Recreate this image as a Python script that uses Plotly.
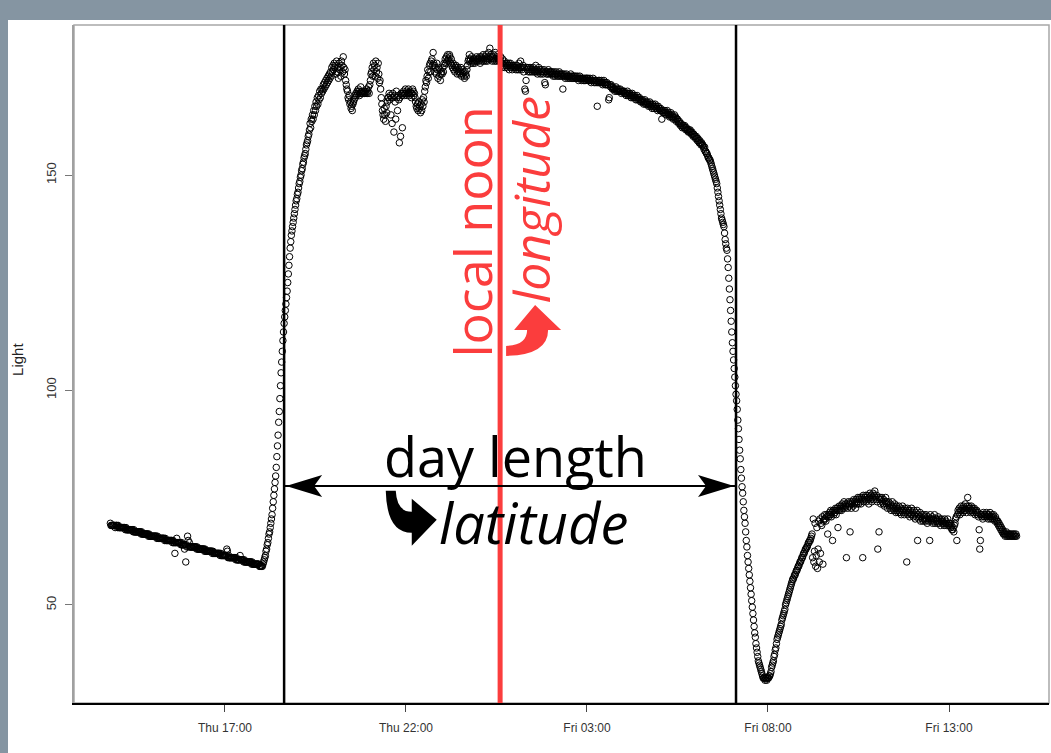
import plotly.graph_objects as go
from datetime import datetime, timedelta

# ---------------- data (light level, one reading per minute) ----------------
HOUR_STARTS = [
    "2013-08-15 13:50", "2013-08-15 14:00", "2013-08-15 15:00", "2013-08-15 16:00",
    "2013-08-15 17:00", "2013-08-15 18:00", "2013-08-15 19:00", "2013-08-15 20:00",
    "2013-08-15 21:00", "2013-08-15 22:00", "2013-08-15 23:00", "2013-08-16 00:00",
    "2013-08-16 01:00", "2013-08-16 02:00", "2013-08-16 03:00", "2013-08-16 04:00",
    "2013-08-16 05:00", "2013-08-16 06:00", "2013-08-16 07:00", "2013-08-16 08:00",
    "2013-08-16 09:00", "2013-08-16 10:00", "2013-08-16 11:00", "2013-08-16 12:00",
    "2013-08-16 13:00", "2013-08-16 14:00",
]

LIGHT_BY_HOUR = [
    # Thu 13:50
    [69, 68.5, 68.5, 68.5, 68.5, 68.5, 68.5, 68.5, 68, 68.5],
    # Thu 14:00
    [68.5, 68.5, 68, 68.5, 68, 68, 68, 68, 68, 68,
     68, 68, 68, 68, 68, 67.5, 68, 67.5, 67.5, 67.5,
     67.5, 67.5, 67.5, 67.5, 67.5, 67.5, 67.5, 67.5, 67, 67.5,
     67, 67, 67, 67, 67, 67, 67, 67, 67, 67,
     67, 66.5, 67, 66.5, 66.5, 66.5, 66.5, 66.5, 66.5, 66.5,
     66.5, 66.5, 66.5, 66, 66.5, 66, 66, 66, 66, 66],
    # Thu 15:00
    [66, 66, 66, 66, 66, 66, 66, 65.5, 66, 65.5,
     65.5, 65.5, 65.5, 65.5, 65.5, 65.5, 65.5, 65.5, 65.5, 65.5,
     65, 65.5, 65, 65, 65, 65, 65, 65, 65, 65,
     65, 65, 65, 64.5, 65, 64.5, 64.5, 62, 64.5, 64.5,
     65.5, 64.5, 64.5, 64.5, 64.5, 64.5, 64.5, 64, 64.5, 64,
     64, 64, 64, 63, 64, 60, 64, 63.5, 66, 65],
    # Thu 16:00
    [63.5, 64.5, 63.5, 63.5, 63.5, 63.5, 63.5, 63.5, 63.5, 63.5,
     63.5, 63.5, 63.5, 63, 63.5, 63, 63, 63, 63, 63,
     63, 63, 63, 63, 63, 63, 62.5, 63, 62.5, 62.5,
     62.5, 62.5, 62.5, 62.5, 62.5, 62.5, 62.5, 62.5, 62.5, 62,
     62.5, 62, 62, 62, 62, 62, 62, 62, 62, 62,
     62, 62, 61.5, 62, 61.5, 61.5, 61.5, 61.5, 61.5, 61.5],
    # Thu 17:00
    [61.5, 61.5, 61.5, 63, 62.5, 61, 61.5, 61, 61, 61,
     61, 61, 61, 61, 61, 61, 61, 61, 60.5, 61,
     60.5, 60.5, 60.5, 60.5, 60.5, 61.5, 60.5, 60.5, 60.5, 60.5,
     60.5, 60, 60.5, 60, 60, 60, 60, 60, 60, 60,
     60, 60, 60, 60, 59.5, 60, 59.5, 59.5, 59.5, 59.5,
     59.5, 59.5, 59.5, 59.5, 59.5, 59.5, 59.5, 59, 59, 59],
    # Thu 18:00
    [59, 59, 59, 59.5, 60, 60.5, 61, 61.5, 62.5, 63,
     64, 64.5, 65.5, 66.5, 67, 68, 69, 70, 71, 72.5,
     74, 75.5, 77, 78.5, 80, 82, 84.5, 87, 89.5, 92.5,
     95, 98, 101, 104, 106.5, 109, 111.5, 113.5, 115.5, 117,
     118.5, 120, 121.5, 123, 125, 127, 129, 131, 133, 134.5,
     136, 137, 138, 139, 140, 141, 142, 143, 144, 144.5],
    # Thu 19:00
    [145.5, 146, 147, 148, 148.5, 149.5, 150, 151, 151.5, 152.5,
     153, 154, 154.5, 155, 156, 157, 157.5, 158, 159, 159.5,
     160.5, 162, 161, 163, 162.5, 164, 163, 165, 164, 166,
     165, 167, 166, 168, 166.5, 168.5, 167.5, 169.5, 168, 170,
     169, 170, 169.5, 171, 170, 171.5, 170.5, 172, 171, 172.5,
     171.5, 173, 172, 173.5, 172.5, 174, 173, 175, 174, 175.5],
    # Thu 20:00
    [174.5, 176, 175, 175.5, 173.5, 176.5, 174, 175, 172.5, 176,
     174.5, 175, 173, 176.5, 175.5, 174, 177.5, 175, 173.5, 174.5,
     172, 171, 170, 169.5, 168, 167.5, 168.5, 166.5, 167, 165.5,
     166, 165, 166.5, 167, 167.5, 168.5, 168, 169, 168.5, 169.5,
     169, 170, 169.5, 168.5, 169, 170.5, 169, 169.5, 169, 169,
     169.5, 169, 169, 169.5, 169, 170, 169, 169.5, 170.5, 169],
    # Thu 21:00
    [171, 172, 173.5, 174, 175, 173, 176, 174.5, 175.5, 173,
     176.5, 174, 175, 172.5, 176, 173.5, 171.5, 172, 170, 168,
     166.5, 165, 164, 163, 165.5, 164, 162.5, 166, 164.5, 167,
     168, 168, 169, 167.5, 168.5, 164, 168, 162, 169, 168,
     160, 168.5, 167, 163, 169.5, 168, 165, 168.5, 167.5, 157.5,
     168, 159, 169, 168.5, 161, 169, 169.5, 168.5, 169, 170],
    # Thu 22:00
    [169, 169.5, 168.5, 169, 170, 169, 168.5, 169.5, 169, 168,
     169, 170, 169.5, 168.5, 169, 168, 167, 166, 165.5, 166.5,
     165, 167, 165.5, 166, 164.5, 166.5, 165, 167.5, 166, 168,
     167, 169.5, 170.5, 172, 171.5, 173, 174.5, 172.5, 174, 175.5,
     176, 174, 176.5, 177, 175.5, 178.5, 176, 175.5, 174, 175,
     173.5, 176, 174.5, 172.5, 175, 173, 174.5, 172, 173.5, 174],
    # Thu 23:00
    [173.5, 175, 174, 176, 175.5, 177, 176, 177.5, 176.5, 178,
     177, 176.5, 178, 177.5, 176, 177, 175.5, 175, 176, 174.5,
     175.5, 174, 175, 175.5, 174.5, 173.5, 175, 174, 174.5, 173.5,
     174, 175, 173, 174.5, 173.5, 174, 173, 172.5, 174, 173.5,
     173, 174.5, 175.5, 176.5, 177, 178, 176.5, 177, 176, 177.5,
     176.5, 176, 177, 176.5, 176, 177, 176.5, 177.5, 176.5, 177],
    # Fri 00:00
    [177, 176.5, 177.5, 176, 177, 177.5, 176.5, 177, 178, 176.5,
     177, 177.5, 176.5, 178, 177, 176.5, 177.5, 178.5, 177, 179.5,
     177.5, 178, 177, 176.5, 177.5, 178, 177, 176.5, 178.5, 177,
     176.5, 177.5, 178, 177, 176.5, 177, 176.5, 177.5, 176, 175,
     177, 176, 175.5, 176.5, 175, 176, 175.5, 176, 175, 175.5,
     176, 174.5, 175.5, 176, 175, 175.5, 174.5, 175, 175.5, 175],
    # Fri 01:00
    [175.5, 175, 174.5, 175, 175.5, 174.5, 175, 176, 174.5, 175,
     176.5, 175, 174.5, 175, 175.5, 174, 175, 170, 169.5, 172,
     175, 174.5, 175, 174, 175, 174.5, 174, 175, 174.5, 174,
     174.5, 175, 174, 174.5, 174, 175.5, 174, 174.5, 173.5, 174,
     175, 174, 174.5, 173.5, 174, 174.5, 174, 173.5, 174, 174.5,
     171.5, 171, 174, 173.5, 174, 173.5, 174.5, 174, 173.5, 174],
    # Fri 02:00
    [174, 173.5, 174, 173.5, 173, 174, 173.5, 173, 173.5, 174,
     173.5, 173, 173.5, 173, 174, 173.5, 173, 173.5, 173, 173.5,
     170, 173, 173.5, 173, 172.5, 173, 173.5, 173, 172.5, 173,
     173, 172.5, 173, 173.5, 172.5, 173, 172.5, 173, 172.5, 173,
     172.5, 173, 172.5, 172.5, 173, 172.5, 172, 172.5, 173, 172.5,
     172.5, 172, 172.5, 172.5, 172, 172.5, 172, 172.5, 172, 172.5],
    # Fri 03:00
    [172.5, 172, 172.5, 172, 172, 172.5, 172, 171.5, 172, 172,
     172.5, 172, 171.5, 172, 172, 171.5, 172, 166, 171.5, 172,
     171.5, 172, 171.5, 171.5, 172, 171.5, 171, 171.5, 172, 171.5,
     171, 171.5, 171, 171.5, 171, 171, 167.5, 168, 171, 170.5,
     171, 170.5, 170, 170.5, 170, 170, 169.5, 170, 170.5, 169.5,
     170, 169.5, 170, 169.5, 169.5, 170, 169.5, 169, 169.5, 169.5],
    # Fri 04:00
    [169.5, 169, 169.5, 169, 169, 168.5, 169, 169.5, 168.5, 169,
     168.5, 169, 168.5, 168, 168.5, 169, 168, 168.5, 168, 168.5,
     168, 167.5, 168, 168.5, 167.5, 168, 167.5, 168, 167.5, 167,
     167.5, 167, 167.5, 167, 166.5, 167, 167.5, 166.5, 167, 166.5,
     167, 166.5, 166, 166.5, 167, 166, 166.5, 166, 165.5, 166.5,
     166, 165.5, 166, 166.5, 165.5, 166, 165.5, 165, 166, 165.5],
    # Fri 05:00
    [165.5, 165, 165.5, 165, 163, 165, 164.5, 165, 164.5, 165,
     164.5, 164, 164.5, 165, 164, 164.5, 164, 163.5, 164, 164.5,
     163.5, 164, 163.5, 163, 163.5, 164, 163, 163.5, 162.5, 163,
     163, 162.5, 162, 162.5, 162, 161.5, 162, 161.5, 161, 161.5,
     161.5, 161, 161.5, 161, 160.5, 161, 160.5, 160.5, 160, 160.5,
     160, 160.5, 160, 159.5, 160, 159.5, 159, 159.5, 159, 159],
    # Fri 06:00
    [158.5, 159, 158.5, 158, 158.5, 158, 157.5, 158, 157.5, 157,
     157.5, 157, 157, 156.5, 156, 156.5, 155.5, 155.5, 155, 155,
     154.5, 154, 154, 153.5, 153.5, 153, 152.5, 152, 151.5, 151,
     150.5, 150, 149.5, 149, 148.5, 148, 147, 146, 145, 144,
     143, 142, 141, 140, 139.5, 139, 138.5, 138, 136.5, 135,
     134, 133, 132.5, 130.5, 128.5, 126, 123.5, 121, 118.5, 116],
    # Fri 07:00
    [113.5, 111, 109, 107, 105, 103, 101, 99, 97.5, 95.5,
     93, 91, 88.5, 86, 84, 81.5, 79.5, 77.5, 76, 74,
     72, 70.5, 69, 67, 65, 63.5, 61.5, 60, 58.5, 57,
     55.5, 54, 52.5, 51, 49.5, 48, 46.5, 45, 43.5, 42.5,
     41, 40, 39, 38, 37, 36.5, 36, 35.5, 35, 34.5,
     34, 33.5, 33, 33, 33, 32.5, 33, 33, 32.5, 33],
    # Fri 08:00
    [33, 33, 33.5, 33.5, 34, 34.5, 35.5, 36, 36.5, 37,
     38, 38.5, 39.5, 40, 41, 42, 42.5, 43, 43.5, 44,
     44.5, 45, 45.5, 46.5, 47, 47.5, 48, 48.5, 49, 50,
     50.5, 51, 51.5, 52, 52.5, 53, 53.5, 54, 54.5, 55,
     55.5, 56, 56, 56.5, 57, 57, 57.5, 58, 58, 58.5,
     59, 59, 59.5, 60, 60, 60.5, 61, 61, 61.5, 62],
    # Fri 09:00
    [62, 62.5, 63, 63, 63.5, 63.5, 64, 64.5, 64.5, 65,
     65, 65.5, 66, 66.5, 61, 70, 60, 62.5, 69, 59,
     61.5, 68, 58.5, 63, 69.5, 60, 70, 62, 69, 68.5,
     70.5, 59.5, 69.5, 70, 71, 70, 69.5, 71, 70.5, 66.5,
     71, 70.5, 71.5, 71, 72, 70.5, 71.5, 65, 72, 71,
     72, 71.5, 72.5, 71, 72, 72.5, 68, 72, 73, 72],
    # Fri 10:00
    [72.5, 73, 72, 73.5, 72.5, 73, 74, 72.5, 73.5, 73,
     61, 73.5, 72.5, 74, 73, 73.5, 67, 74, 72.5, 73.5,
     74, 73, 74.5, 73.5, 74, 72.5, 74.5, 73.5, 74, 75,
     73.5, 74.5, 75, 74, 73.5, 75, 74.5, 61, 75.5, 74,
     75, 74.5, 75.5, 74, 75, 75.5, 74.5, 73.5, 75, 76,
     74.5, 75.5, 74, 75, 76, 74.5, 75.5, 76.5, 75, 74.5],
    # Fri 11:00
    [75.5, 74, 63, 75, 67, 74.5, 75, 73.5, 74.5, 75,
     74, 73.5, 74.5, 73, 74, 75, 73.5, 74, 72.5, 73.5,
     74, 73, 72.5, 73.5, 72, 73, 74, 72.5, 73, 72,
     73.5, 72.5, 71.5, 73, 72, 72.5, 71.5, 73, 72, 71.5,
     72.5, 71, 72, 73, 71.5, 72, 71, 72.5, 71.5, 72,
     60, 72.5, 71, 72, 71.5, 70.5, 72, 71, 72.5, 71],
    # Fri 12:00
    [71.5, 70.5, 72, 71, 70, 71.5, 70.5, 72, 65, 71,
     70, 70.5, 71.5, 69.5, 70.5, 71, 70, 69.5, 71, 70,
     70.5, 69.5, 71, 70, 69, 70.5, 69.5, 70, 65, 71,
     69.5, 70, 70.5, 69, 70, 69.5, 71, 69, 70, 69.5,
     70, 69, 70.5, 69.5, 69, 70, 68.5, 69.5, 70, 69,
     69.5, 69, 68.5, 70, 69, 69.5, 68.5, 69, 70, 68.5],
    # Fri 13:00
    [69, 68.5, 69, 68, 68.5, 67.5, 67.5, 68, 67, 68.5,
     69, 70, 70.5, 65, 71, 72, 71.5, 72.5, 71, 72,
     73, 72, 72.5, 71.5, 73, 72, 72.5, 73.5, 72, 71.5,
     73, 75, 72.5, 73, 72, 72.5, 71.5, 73, 72, 72.5,
     71.5, 72, 72.5, 71, 72, 71.5, 72, 71, 71.5, 70.5,
     67.5, 63, 65, 71, 70.5, 71, 70, 71.5, 70.5, 71],
    # Fri 14:00
    [71, 70.5, 71.5, 70.5, 71, 70, 71, 70.5, 71.5, 70,
     70.5, 71, 70, 70.5, 71, 70, 69.5, 70.5, 70, 69.5,
     69, 69.5, 68.5, 69, 68, 68.5, 67.5, 68, 67, 67.5,
     66.5, 67, 66.5, 66, 66.5, 67, 66, 66.5, 66, 66.5,
     66, 66.5, 66, 66.5, 66, 66, 66.5, 66, 66.5, 66,
     66, 66.5, 66],
]

TICK_TIMES = ["2013-08-15 17:00", "2013-08-15 22:00", "2013-08-16 03:00",
              "2013-08-16 08:00", "2013-08-16 13:00"]
TICK_LABELS = ["Thu 17:00", "Thu 22:00", "Fri 03:00", "Fri 08:00", "Fri 13:00"]
Y_TICKS = [50, 100, 150]

SUNRISE = "2013-08-15 18:38"
LOCAL_NOON = "2013-08-16 00:36"
SUNSET = "2013-08-16 07:07"
DAY_LENGTH_LEVEL = 77.7

X_RANGE = ["2013-08-15 12:49:45", "2013-08-16 15:45:45"]
Y_RANGE = [27.2, 184.9]

# ---------------- build series ----------------
times, light = [], []
for start, row in zip(HOUR_STARTS, LIGHT_BY_HOUR):
    t0 = datetime.strptime(start, "%Y-%m-%d %H:%M")
    for i, v in enumerate(row):
        times.append(t0 + timedelta(minutes=i))
        light.append(v)

fig = go.Figure()
fig.add_trace(go.Scatter(
    x=times, y=light, mode="markers",
    marker=dict(symbol="circle-open", size=6.5, color="black", line=dict(width=1)),
    hoverinfo="skip", showlegend=False,
))

RED = "#fb3d3d"

# curved "heavy arrow" glyph drawn as a pixel-sized path, tip at (0,0), pointing right
CURVED_ARROW_RIGHT = "M-51,29 Q-50,-13 -25,-13 L-25,-26 L0,0 L-25,21 L-25,8 Q-40,8 -41,29 Z"
# same glyph turned 90 degrees counter-clockwise (pointing up)
CURVED_ARROW_UP = "M-29,-51 Q13,-50 13,-25 L26,-25 L0,0 L-21,-25 L-8,-25 Q-8,-40 -29,-41 Z"

shapes = [
    # white panel over the slate background
    dict(type="rect", xref="paper", yref="paper", x0=-0.0677, x1=1.02, y0=-0.09, y1=1.0074,
         fillcolor="white", line=dict(width=0), layer="below"),
    # gray plot frame
    dict(type="rect", xref="paper", yref="paper", x0=0, x1=1, y0=0, y1=1,
         line=dict(color="#a8a8a8", width=1.5), fillcolor="rgba(0,0,0,0)", layer="below"),
    dict(type="line", xref="x", yref="paper", x0=SUNRISE, x1=SUNRISE, y0=0, y1=1,
         line=dict(color="black", width=2.5)),
    dict(type="line", xref="x", yref="paper", x0=SUNSET, x1=SUNSET, y0=0, y1=1,
         line=dict(color="black", width=2.5)),
    dict(type="line", xref="x", yref="paper", x0=LOCAL_NOON, x1=LOCAL_NOON, y0=0, y1=1,
         line=dict(color=RED, width=5)),
    # day length arrow
    dict(type="line", xref="x", yref="y", x0=SUNRISE, x1=SUNSET,
         y0=DAY_LENGTH_LEVEL, y1=DAY_LENGTH_LEVEL, line=dict(color="black", width=2)),
    dict(type="path", xref="x", yref="y", xsizemode="pixel", ysizemode="pixel",
         xanchor=SUNRISE, yanchor=DAY_LENGTH_LEVEL,
         path="M2,0 L38,11 L30,0 L38,-11 Z", fillcolor="black", line=dict(width=0)),
    dict(type="path", xref="x", yref="y", xsizemode="pixel", ysizemode="pixel",
         xanchor=SUNSET, yanchor=DAY_LENGTH_LEVEL,
         path="M-2,0 L-38,11 L-30,0 L-38,-11 Z", fillcolor="black", line=dict(width=0)),
    # curved arrows in front of "latitude" and "longitude"
    dict(type="path", xref="x", yref="y", xsizemode="pixel", ysizemode="pixel",
         xanchor="2013-08-15 22:51", yanchor=69.8,
         path=CURVED_ARROW_RIGHT, fillcolor="black", line=dict(width=0)),
    dict(type="path", xref="x", yref="y", xsizemode="pixel", ysizemode="pixel",
         xanchor="2013-08-16 01:34", yanchor=119.8,
         path=CURVED_ARROW_UP, fillcolor=RED, line=dict(width=0)),
]

TXT_FONT = "Open Sans, DejaVu Sans, sans-serif"
annotations = [
    dict(x="2013-08-15 21:20", y=84.7, xref="x", yref="y", text="day length",
         showarrow=False, xanchor="left", yanchor="middle",
         font=dict(family=TXT_FONT, size=54, color="black")),
    dict(x="2013-08-15 22:52", y=69.3, xref="x", yref="y", text="<i>latitude</i>",
         showarrow=False, xanchor="left", yanchor="middle",
         font=dict(family=TXT_FONT, size=56, color="black")),
    dict(x="2013-08-15 23:48", y=107.0, xref="x", yref="y", text="local noon",
         showarrow=False, xanchor="center", yanchor="bottom", textangle=-90,
         font=dict(family=TXT_FONT, size=52, color=RED)),
    dict(x="2013-08-16 01:27", y=119.8, xref="x", yref="y", text="<i>longitude</i>",
         showarrow=False, xanchor="center", yanchor="bottom", textangle=-90,
         font=dict(family=TXT_FONT, size=50, color=RED)),
    dict(x=-0.0574, y=0.506, xref="paper", yref="paper", text="Light",
         showarrow=False, xanchor="center", yanchor="middle", textangle=-90,
         font=dict(family="Liberation Sans, Arial, sans-serif", size=15, color="#222")),
]

fig.update_layout(
    width=1051, height=753,
    margin=dict(l=74, r=2, t=25, b=50, pad=0),
    paper_bgcolor="#8595a2",
    plot_bgcolor="white",
    showlegend=False,
    shapes=shapes,
    annotations=annotations,
    xaxis=dict(
        type="date", range=X_RANGE, tickvals=TICK_TIMES, ticktext=TICK_LABELS,
        ticks="outside", ticklen=7, tickwidth=1, tickcolor="#444",
        showgrid=False, zeroline=False, showline=True, linecolor="black", linewidth=2,
        tickfont=dict(family="Liberation Sans, Arial, sans-serif", size=12, color="#333"),
        ticklabelstandoff=6,
    ),
    yaxis=dict(
        range=Y_RANGE, tickvals=Y_TICKS, ticks="outside", ticklen=7, tickwidth=1,
        tickcolor="#777", tickangle=-90,
        showgrid=False, zeroline=False, showline=True, linecolor="#a0a0a0", linewidth=1.5,
        tickfont=dict(family="Liberation Sans, Arial, sans-serif", size=13, color="#333"),
        ticklabelstandoff=4,
    ),
)

fig.write_html("out.html", config={"displayModeBar": False},
               post_script="document.body.style.margin='0';document.body.style.overflow='hidden';")
